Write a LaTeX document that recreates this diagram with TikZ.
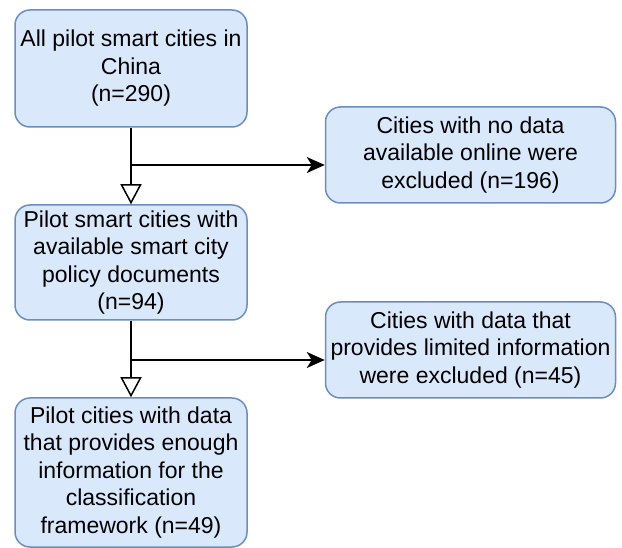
\documentclass[tikz,border=0pt]{standalone}
\usepackage{fontspec}
\setmainfont{Liberation Sans}
\usetikzlibrary{arrows.meta}
\definecolor{boxfill}{HTML}{DAE8FC}
\definecolor{boxdraw}{HTML}{6C8EBF}
\begin{document}
\begin{tikzpicture}[x=1pt,y=-1pt,
  flowbox/.style={draw=boxdraw, fill=boxfill, line width=1.5pt, rounded corners=15pt,
    align=center, inner sep=0pt, font=\fontsize{23}{27.5}\selectfont},
  mainarrow/.style={line width=1.8pt, -{Triangle[open, length=20pt, width=21pt, line width=1.5pt, fill=white]}},
  sidearrow/.style={line width=1.8pt, -{Stealth[length=18pt, width=16pt, inset=5pt]}}]
\useasboundingbox (0,0) rectangle (622,548);
\node[flowbox, minimum width=232pt, minimum height=117pt] (b1) at (131,68.5)
  {All pilot smart cities in\\China\\(n=290)};
\node[flowbox, minimum width=232pt, minimum height=115pt] (b2) at (131,262.5)
  {Pilot smart cities with\\available smart city\\policy documents\\(n=94)};
\node[flowbox, minimum width=232pt, minimum height=149pt] (b3) at (131,472.5)
  {Pilot cities with data\\that provides enough\\information for the\\classification\\framework (n=49)};
\node[flowbox, minimum width=290pt, minimum height=96pt] (r1) at (470.5,155)
  {Cities with no data\\available online were\\excluded (n=196)};
\node[flowbox, minimum width=290pt, minimum height=96pt] (r2) at (470.5,350)
  {Cities with data that\\provides limited information\\were excluded (n=45)};
\coordinate (j1) at (131,165);
\coordinate (j2) at (131,360);
\draw[mainarrow] (b1.south) -- (b2.north);
\draw[mainarrow] (b2.south) -- (b3.north);
\draw[sidearrow] (j1) -- (j1 -| r1.west);
\draw[sidearrow] (j2) -- (j2 -| r2.west);
\end{tikzpicture}
\end{document}
